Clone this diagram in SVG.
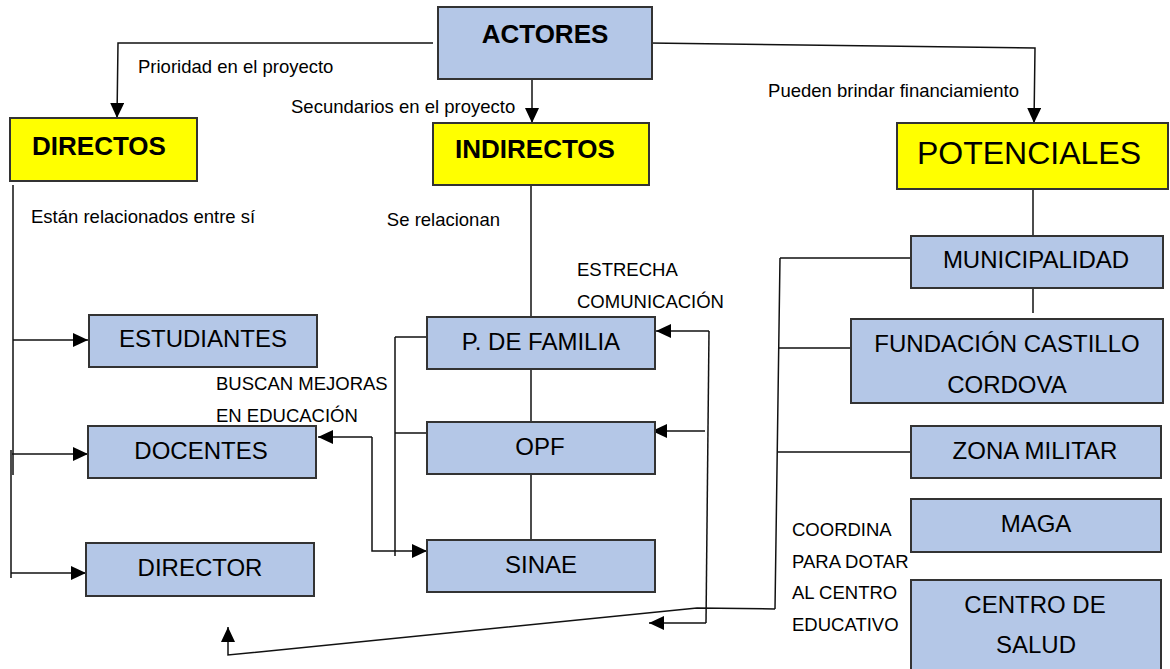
<svg xmlns="http://www.w3.org/2000/svg" width="1170" height="669" viewBox="0 0 1170 669">
<style>
  .blue{fill:#b4c7e7;stroke:#333;stroke-width:2}
  .yel{fill:#ffff00;stroke:#333;stroke-width:2}
  text{font-family:"Liberation Sans",Arial,sans-serif;fill:#000}
  .t{font-size:24px;text-anchor:middle}
  .h{font-size:26px;font-weight:bold;text-anchor:middle}
  .l{font-size:18.5px}
  .c{fill:none;stroke:#111;stroke-width:1.5}
</style>
<defs>
  <marker id="arr" markerUnits="userSpaceOnUse" markerWidth="16" markerHeight="15" refX="15" refY="7" orient="auto">
    <path d="M0,0 L15,7 L0,14 z" fill="#000"/>
  </marker>
</defs>
<rect width="1170" height="669" fill="#fff"/>

<g id="connectors">
  <path class="c" d="M433,43 H118 L117,118" marker-end="url(#arr)"/>
  <path class="c" d="M532,73 V123" marker-end="url(#arr)"/>
  <path class="c" d="M649,43 L1035,48 L1034,123" marker-end="url(#arr)"/>
  <path class="c" d="M1033,184 V239"/>
  <path class="c" d="M1033,285 V313"/>
  <path class="c" d="M531,185 V317"/>
  <path class="c" d="M531,369 V425"/>
  <path class="c" d="M531,474 V542"/>
  <path class="c" d="M13,185 V475 M11,450 V578"/>
  <path class="c" d="M13,340 H88" marker-end="url(#arr)"/>
  <path class="c" d="M12,454 H88" marker-end="url(#arr)"/>
  <path class="c" d="M11,573 H86" marker-end="url(#arr)"/>
  <path class="c" d="M395,337 V556 M395,337 H427 M395,433 H428"/>
  <path class="c" d="M372,437 V551 H427" marker-end="url(#arr)"/>
  <path class="c" d="M372,437 H318" marker-end="url(#arr)"/>
  <path class="c" d="M709,331 L706,623"/>
  <path class="c" d="M709,331 H656" marker-end="url(#arr)"/>
  <path class="c" d="M705,431 H652" marker-end="url(#arr)"/>
  <path class="c" d="M706,623 H649" marker-end="url(#arr)"/>
  <path class="c" d="M780,258 L775,609 M780,258 H911 M779,348 H851 M778,452 H911"/>
  <path class="c" d="M775,609 L697,608 L228,655 V627" marker-end="url(#arr)"/>
</g>

<g id="actores"><rect class="blue" x="438" y="7" width="214" height="72"/><text class="h" x="545" y="43">ACTORES</text></g>
<g id="directos"><rect class="yel" x="10" y="118" width="187" height="63"/><text class="h" x="99" y="155">DIRECTOS</text></g>
<g id="indirectos"><rect class="yel" x="433" y="123" width="216" height="62"/><text class="h" x="535" y="158">INDIRECTOS</text></g>
<g id="potenciales"><rect class="yel" x="897" y="123" width="271" height="66"/><text x="1029" y="164" style="font-size:32px;text-anchor:middle">POTENCIALES</text></g>

<g id="estudiantes"><rect class="blue" x="89" y="315" width="228" height="52"/><text class="t" x="203" y="347">ESTUDIANTES</text></g>
<g id="docentes"><rect class="blue" x="88" y="426" width="228" height="52"/><text class="t" x="201" y="459">DOCENTES</text></g>
<g id="director"><rect class="blue" x="86" y="543" width="228" height="53"/><text class="t" x="200" y="576">DIRECTOR</text></g>

<g id="pfamilia"><rect class="blue" x="427" y="317" width="228" height="52"/><text class="t" x="541" y="350">P. DE FAMILIA</text></g>
<g id="opf"><rect class="blue" x="427" y="422" width="228" height="52"/><text class="t" x="540" y="455">OPF</text></g>
<g id="sinae"><rect class="blue" x="427" y="540" width="228" height="52"/><text class="t" x="541" y="573">SINAE</text></g>

<g id="municipalidad"><rect class="blue" x="911" y="236" width="252" height="52"/><text class="t" x="1036" y="268">MUNICIPALIDAD</text></g>
<g id="fundacion"><rect class="blue" x="851" y="319" width="312" height="84"/><text class="t" x="1007" y="352">FUNDACIÓN CASTILLO</text><text class="t" x="1007" y="393">CORDOVA</text></g>
<g id="zonamilitar"><rect class="blue" x="911" y="426" width="250" height="52"/><text class="t" x="1035" y="459">ZONA MILITAR</text></g>
<g id="maga"><rect class="blue" x="911" y="499" width="250" height="53"/><text class="t" x="1036" y="532">MAGA</text></g>
<g id="centrosalud"><rect class="blue" x="911" y="580" width="250" height="100"/><text class="t" x="1035" y="613">CENTRO DE</text><text class="t" x="1036" y="653">SALUD</text></g>

<g id="labels">
  <text class="l" x="138" y="73">Prioridad en el proyecto</text>
  <text class="l" x="291" y="113">Secundarios en el proyecto</text>
  <text class="l" x="1019" y="97" text-anchor="end">Pueden brindar financiamiento</text>
  <text class="l" x="31" y="223">Están relacionados entre sí</text>
  <text class="l" x="500" y="226" text-anchor="end">Se relacionan</text>
  <text class="l" x="577" y="276">ESTRECHA</text>
  <text class="l" x="577" y="308">COMUNICACIÓN</text>
  <text class="l" x="216" y="390">BUSCAN MEJORAS</text>
  <text class="l" x="216" y="422">EN EDUCACIÓN</text>
  <text class="l" x="792" y="536">COORDINA</text>
  <text class="l" x="792" y="568">PARA DOTAR</text>
  <text class="l" x="792" y="599">AL CENTRO</text>
  <text class="l" x="792" y="631">EDUCATIVO</text>
</g>
</svg>
